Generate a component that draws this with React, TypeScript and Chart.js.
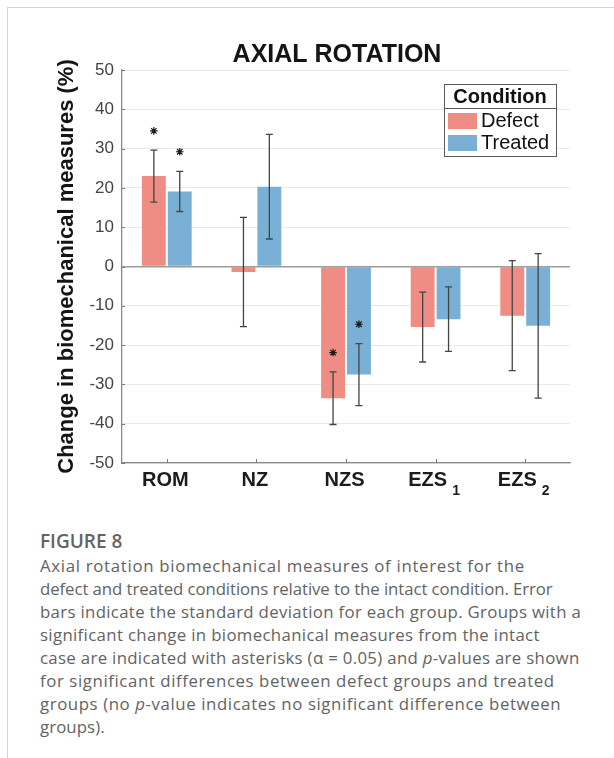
import React, { useEffect, useRef } from 'react';
import { Chart, registerables } from 'chart.js';

Chart.register(...registerables);

// ---- data ----
const chartTitle = 'AXIAL ROTATION';
const yAxisTitle = 'Change in biomechanical measures (%)';
const legendTitle = 'Condition';
const categories = ['ROM', 'NZ', 'NZS', 'EZS', 'EZS'];
const categorySubscripts = ['', '', '', '1', '2'];
const seriesLabels = ['Defect', 'Treated'];
const defectMean = [23.0, -1.4, -33.5, -15.4, -12.5];
const defectSD = [6.6, 13.9, 6.7, 8.9, 14.0];
const treatedMean = [19.1, 20.3, -27.5, -13.4, -15.1];
const treatedSD = [5.1, 13.3, 7.9, 8.2, 18.4];
const defectAsterisk: (number | null)[] = [34.5, null, -21.9, null, null];
const treatedAsterisk: (number | null)[] = [29.2, null, -14.7, null, null];
const yMin = -50;
const yMax = 50;
const yStep = 10;

const captionHeading = 'FIGURE 8';

const FONT = '"Liberation Sans", Arial, Helvetica, sans-serif';
const DEFECT_COLOR = 'rgb(239,140,132)';
const TREATED_COLOR = 'rgb(122,176,214)';

const sdSeries = [defectSD, treatedSD];
const starSeries = [defectAsterisk, treatedAsterisk];

const overlayPlugin = {
  id: 'overlay',
  afterDatasetsDraw(chart: any) {
    const ctx = chart.ctx;
    const ys = chart.scales.y;
    chart.data.datasets.forEach((ds: any, i: number) => {
      const meta = chart.getDatasetMeta(i);
      meta.data.forEach((el: any, j: number) => {
        const m = ds.data[j];
        const sd = sdSeries[i][j];
        const yt = ys.getPixelForValue(m + sd);
        const yb = ys.getPixelForValue(m - sd);
        const x = el.x;
        ctx.save();
        ctx.strokeStyle = '#444444';
        ctx.lineWidth = 1.3;
        ctx.beginPath();
        ctx.moveTo(x, yt);
        ctx.lineTo(x, yb);
        ctx.moveTo(x - 3.5, yt);
        ctx.lineTo(x + 3.5, yt);
        ctx.moveTo(x - 3.5, yb);
        ctx.lineTo(x + 3.5, yb);
        ctx.stroke();
        const s = starSeries[i][j];
        if (s !== null && s !== undefined) {
          const sy = ys.getPixelForValue(s);
          const r = 3.8;
          ctx.strokeStyle = '#1a1a1a';
          ctx.lineWidth = 1.2;
          ctx.beginPath();
          ctx.moveTo(x - r, sy);
          ctx.lineTo(x + r, sy);
          ctx.moveTo(x, sy - r);
          ctx.lineTo(x, sy + r);
          const d = r * 0.72;
          ctx.moveTo(x - d, sy - d);
          ctx.lineTo(x + d, sy + d);
          ctx.moveTo(x - d, sy + d);
          ctx.lineTo(x + d, sy - d);
          ctx.stroke();
        }
        ctx.restore();
      });
    });
  },
  afterDraw(chart: any) {
    const ctx = chart.ctx;
    const xs = chart.scales.x;
    const ys = chart.scales.y;
    const area = chart.chartArea;
    ctx.save();
    // inside tick marks
    ctx.strokeStyle = '#7a7a7a';
    ctx.lineWidth = 1;
    ctx.beginPath();
    categories.forEach((_, i) => {
      const px = Math.round(xs.getPixelForValue(i)) + 0.5;
      ctx.moveTo(px, area.bottom);
      ctx.lineTo(px, area.bottom - 4);
    });
    ys.ticks.forEach((t: any) => {
      const py = Math.round(ys.getPixelForValue(t.value)) + 0.5;
      ctx.moveTo(area.left, py);
      ctx.lineTo(area.left + 3, py);
    });
    ctx.stroke();

    // title
    ctx.fillStyle = '#141414';
    ctx.font = `bold 25px ${FONT}`;
    ctx.textAlign = 'center';
    ctx.textBaseline = 'alphabetic';
    ctx.fillText(chartTitle, 337, 61.5);

    // category labels with subscripts
    ctx.fillStyle = '#1c1c1c';
    ctx.textAlign = 'left';
    categories.forEach((c, i) => {
      const px = xs.getPixelForValue(i);
      ctx.font = `bold 20px ${FONT}`;
      const wm = ctx.measureText(c).width;
      const sub = categorySubscripts[i];
      let ws = 0;
      let gap = 0;
      if (sub) {
        ctx.font = `bold 14px ${FONT}`;
        ws = ctx.measureText(sub).width;
        gap = 5;
      }
      const start = px - (wm + gap + ws) / 2 - 1.5;
      ctx.font = `bold 20px ${FONT}`;
      ctx.fillText(c, start, area.bottom + 23);
      if (sub) {
        ctx.font = `bold 14px ${FONT}`;
        ctx.fillText(sub, start + wm + gap, area.bottom + 31.5);
      }
    });

    // legend box
    const lx = 444, ly = 84, lw = 112, lh = 72, th = 24;
    ctx.fillStyle = '#ffffff';
    ctx.fillRect(lx, ly, lw, lh);
    ctx.strokeStyle = '#5a5a5a';
    ctx.lineWidth = 1;
    ctx.strokeRect(lx + 0.5, ly + 0.5, lw, lh);
    ctx.beginPath();
    ctx.moveTo(lx, ly + th + 0.5);
    ctx.lineTo(lx + lw, ly + th + 0.5);
    ctx.stroke();
    ctx.fillStyle = '#111111';
    ctx.font = `bold 20px ${FONT}`;
    ctx.textAlign = 'center';
    ctx.textBaseline = 'middle';
    ctx.fillText(legendTitle, lx + lw / 2, ly + th / 2 + 1);
    chart.data.datasets.forEach((ds: any, i: number) => {
      const ry = ly + 29 + i * 22;
      ctx.fillStyle = ds.backgroundColor;
      ctx.fillRect(lx + 4, ry, 29, 16);
      ctx.fillStyle = '#111111';
      ctx.font = `20px ${FONT}`;
      ctx.textAlign = 'left';
      ctx.fillText(ds.label, lx + 37, ry + 8.5);
    });
    ctx.restore();
  },
};

function App() {
  const canvasRef = useRef<HTMLCanvasElement | null>(null);

  useEffect(() => {
    const canvas = canvasRef.current;
    if (!canvas) return;
    const chart = new Chart(canvas, {
      type: 'bar',
      data: {
        labels: categories.map((c, i) => c + categorySubscripts[i]),
        datasets: [
          {
            label: seriesLabels[0],
            data: defectMean,
            backgroundColor: DEFECT_COLOR,
            borderWidth: 0,
            barPercentage: 0.923,
            categoryPercentage: 0.578,
          },
          {
            label: seriesLabels[1],
            data: treatedMean,
            backgroundColor: TREATED_COLOR,
            borderWidth: 0,
            barPercentage: 0.923,
            categoryPercentage: 0.578,
          },
        ],
      },
      options: {
        responsive: false,
        animation: false,
        devicePixelRatio: 1,
        layout: { padding: { left: 0, right: 44, top: 70, bottom: 0 } },
        plugins: {
          legend: { display: false },
          tooltip: { enabled: false },
          title: { display: false },
        },
        scales: {
          x: {
            type: 'category',
            offset: true,
            grid: { display: false },
            border: { display: true, color: '#8a8a8a', width: 1.3 },
            ticks: { display: false },
            afterFit: (s: any) => {
              s.height = 37;
            },
          },
          y: {
            min: yMin,
            max: yMax,
            ticks: {
              stepSize: yStep,
              color: '#444444',
              font: { family: FONT, size: 17 },
              padding: 8,
            },
            grid: {
              drawTicks: false,
              color: (c: any) => (c.tick && c.tick.value === 0 ? '#9c9c9c' : '#e9e9e9'),
              lineWidth: (c: any) => (c.tick && c.tick.value === 0 ? 1.6 : 1),
            },
            border: { display: true, color: '#8a8a8a', width: 1.3 },
            title: {
              display: true,
              text: yAxisTitle,
              color: '#141414',
              font: { family: FONT, size: 22, weight: 'bold' },
              padding: { top: 54, bottom: 0 },
            },
            afterFit: (s: any) => {
              s.width = 122;
            },
          },
        },
      },
      plugins: [overlayPlugin],
    } as any);
    return () => chart.destroy();
  }, []);

  const capLine = (ls: number): React.CSSProperties => ({
    whiteSpace: 'nowrap',
    height: 23,
    lineHeight: '23px',
    letterSpacing: ls,
  });

  return (
    <div
      style={{
        position: 'absolute',
        left: 0,
        top: 0,
        width: 614,
        height: 758,
        overflow: 'hidden',
        background: '#ffffff',
      }}
    >
      <div
        style={{
          position: 'absolute',
          left: 7,
          top: 7,
          width: 607,
          height: 751,
          boxSizing: 'border-box',
          borderLeft: '1px solid #d4d4d4',
          borderTop: '1px solid #d4d4d4',
        }}
      />
      <canvas
        ref={canvasRef}
        width={614}
        height={500}
        style={{ position: 'absolute', left: 0, top: 0, width: 614, height: 500 }}
      />
      <div
        style={{
          position: 'absolute',
          left: 40,
          top: 528,
          fontFamily: '"Open Sans", sans-serif',
          color: '#636363',
          fontSize: 16.8,
        }}
      >
        <div style={{ fontWeight: 600, fontSize: 19, height: 26, lineHeight: '26px' }}>{captionHeading}</div>
        <div style={capLine(0.7)}>Axial rotation biomechanical measures of interest for the</div>
        <div style={capLine(-0.08)}>defect and treated conditions relative to the intact condition. Error</div>
        <div style={capLine(0.33)}>bars indicate the standard deviation for each group. Groups with a</div>
        <div style={capLine(0.35)}>significant change in biomechanical measures from the intact</div>
        <div style={capLine(0.33)}>
          case are indicated with asterisks (α = 0.05) and <i>p</i>-values are shown
        </div>
        <div style={capLine(0.6)}>for significant differences between defect groups and treated</div>
        <div style={capLine(0.6)}>
          groups (no <i>p</i>-value indicates no significant difference between
        </div>
        <div style={capLine(0.1)}>groups).</div>
      </div>
    </div>
  );
}

export default App;
